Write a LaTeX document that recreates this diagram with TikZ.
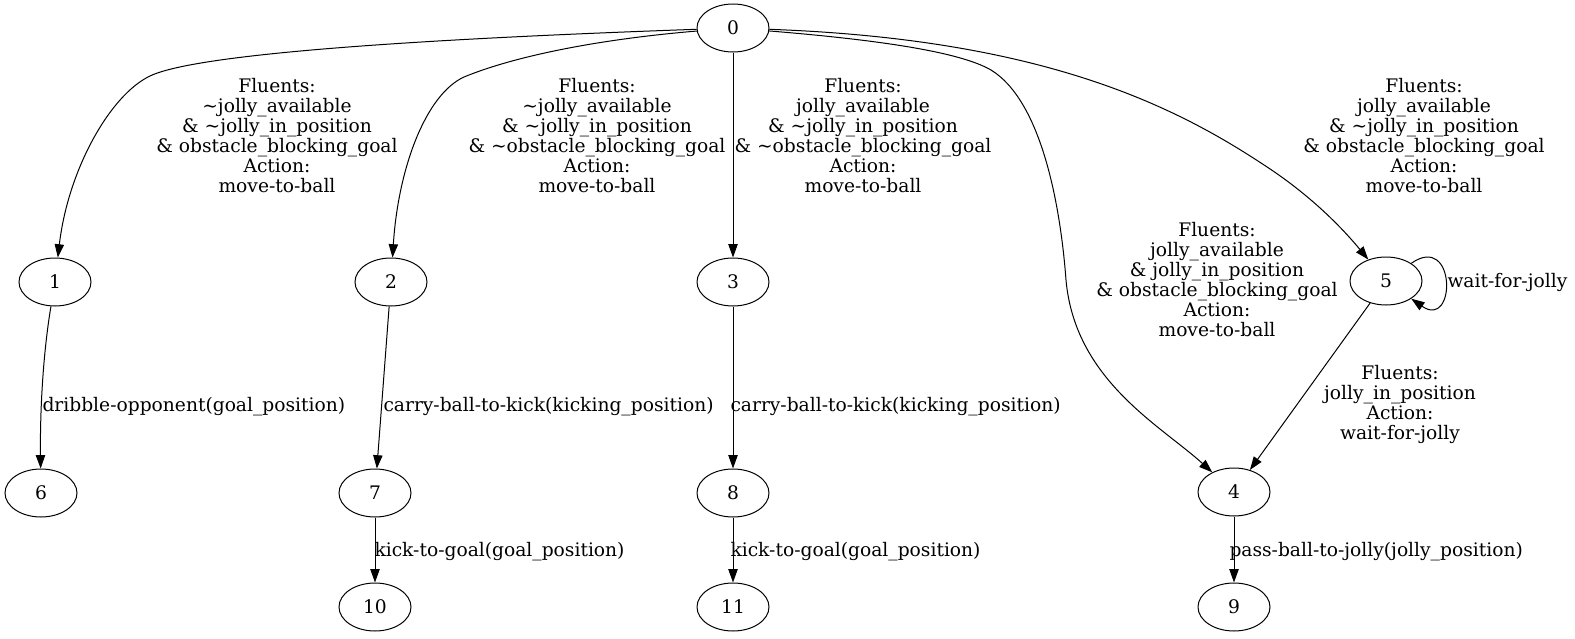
\documentclass[tikz,border=0pt]{standalone}
\usepackage{fontspec}
\setmainfont{DejaVu Serif}
\usetikzlibrary{arrows.meta,shapes.geometric}

\begin{document}
\begin{tikzpicture}[x=0.75pt,y=-0.75pt,->,>={Triangle[length=10pt,width=7pt]},line width=0.75pt,
    state node/.style={ellipse,draw,minimum width=54pt,minimum height=36pt,inner sep=0pt,font=\fontsize{14}{15}\selectfont},
    cond label/.style={align=center,inner sep=0pt,font=\fontsize{14}{15}\selectfont},
    act label/.style={anchor=west,inner sep=0pt,font=\fontsize{14}{15}\selectfont}]

\useasboundingbox (0,0) rectangle (1575,639);

% states
\node[state node] (0)  at (733,28)  {0};
\node[state node] (1)  at (55,282)  {1};
\node[state node] (2)  at (391,282) {2};
\node[state node] (3)  at (733,282) {3};
\node[state node] (5)  at (1386,281) {5};
\node[state node] (6)  at (41,493)  {6};
\node[state node] (7)  at (375,493) {7};
\node[state node] (8)  at (733,493) {8};
\node[state node] (4)  at (1234,492) {4};
\node[state node] (10) at (375,607) {10};
\node[state node] (11) at (733,607) {11};
\node[state node] (9)  at (1234,607) {9};

% transitions out of 0
\draw (0) .. controls (450,38) and (200,52) .. (150,76) .. controls (110,95) and (68,170) .. (1);
\draw (0) .. controls (590,40) and (510,58) .. (464,77) .. controls (425,95) and (398,170) .. (2);
\draw (0) -- (3);
\draw (0) .. controls (880,40) and (960,52) .. (991,70) .. controls (1040,100) and (1060,200) .. (1066,280)
          .. controls (1075,380) and (1160,425) .. (4);
\draw (0) .. controls (1039,39) and (1171,104) .. (1261,163) .. controls (1311,195) and (1343,229) .. (5);

\node[cond label] (l01) at (277,136) {Fluents:\\\textasciitilde jolly\_available\\\& \textasciitilde jolly\_in\_position\\\& obstacle\_blocking\_goal\\Action:\\move-to-ball};
\node[cond label] (l02) at (597,136) {Fluents:\\\textasciitilde jolly\_available\\\& \textasciitilde jolly\_in\_position\\\& \textasciitilde obstacle\_blocking\_goal\\Action:\\move-to-ball};
\node[cond label] (l03) at (863,136) {Fluents:\\jolly\_available\\\& \textasciitilde jolly\_in\_position\\\& \textasciitilde obstacle\_blocking\_goal\\Action:\\move-to-ball};
\node[cond label] (l05) at (1424,136) {Fluents:\\jolly\_available\\\& \textasciitilde jolly\_in\_position\\\& obstacle\_blocking\_goal\\Action:\\move-to-ball};
\node[cond label] (l04) at (1217,280) {Fluents:\\jolly\_available\\\& jolly\_in\_position\\\& obstacle\_blocking\_goal\\Action:\\move-to-ball};

% state 5
\draw (5) to[out=35,in=-35,looseness=4] (5);
\node[act label] (l55) at (1447,282) {wait-for-jolly};
\draw (5) -- (4);
\node[cond label] (l54) at (1400,404) {Fluents:\\jolly\_in\_position\\Action:\\wait-for-jolly};

% the rest
\draw (1) .. controls (42,360) and (40,420) .. (6);
\draw (2) -- (7);
\draw (3) -- (8);
\draw (7) -- (10);
\draw (8) -- (11);
\draw (4) -- (9);

\node[act label] (l16)  at (42,407)   {dribble-opponent(goal\_position)};
\node[act label] (l27)  at (383,407)  {carry-ball-to-kick(kicking\_position)};
\node[act label] (l38)  at (730,407)  {carry-ball-to-kick(kicking\_position)};
\node[act label] (l710) at (374,552)  {kick-to-goal(goal\_position)};
\node[act label] (l811) at (730,552)  {kick-to-goal(goal\_position)};
\node[act label] (l49)  at (1229,552) {pass-ball-to-jolly(jolly\_position)};
\end{tikzpicture}
\end{document}
